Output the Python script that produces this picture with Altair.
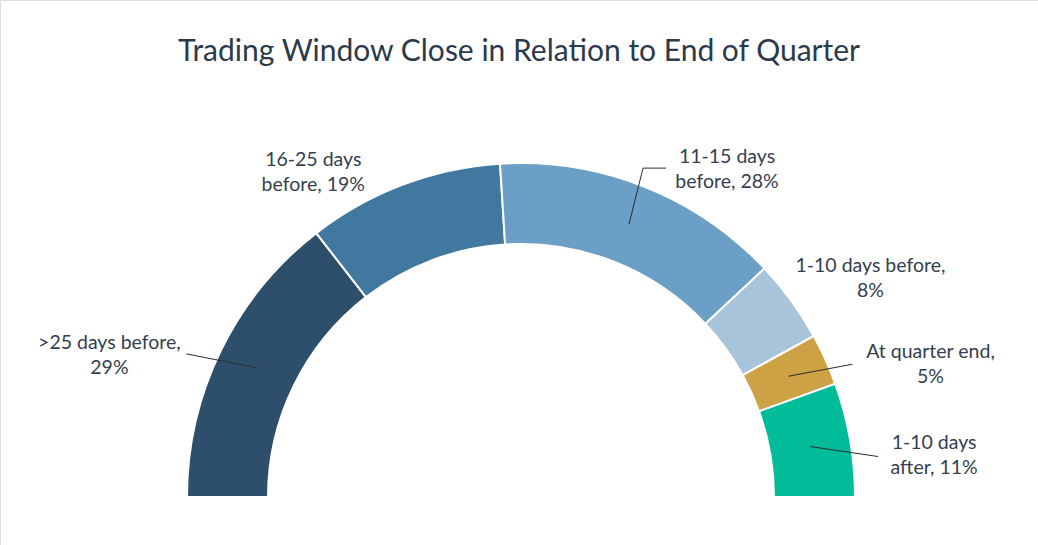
import altair as alt
import pandas as pd

# ---- data ----
categories = [">25 days before", "16-25 days before", "11-15 days before",
              "1-10 days before", "At quarter end", "1-10 days after"]
values = [29, 19, 28, 8, 5, 11]
label_text = [">25 days before,\n29%", "16-25 days\nbefore, 19%", "11-15 days\nbefore, 28%",
              "1-10 days before,\n8%", "At quarter end,\n5%", "1-10 days\nafter, 11%"]

# ---- style / layout ----
colors = ["#2D4F6C", "#41789F", "#6C9FC5", "#A8C4DB", "#CCA244", "#00BC99"]
text_color = "#333F50"
CX, CY = 521, 497          # donut centre (px)
R_IN, R_OUT = 253, 334     # ring radii (px)
R_MID = (R_IN + R_OUT) / 2
LINE_H = 25
# label placement (block centre) relative to each slice's mid-ring anchor
label_dx = [-148, -104, 98, 112, 142, 124]
label_dy = [-12, -50, -55, -46, -12, 9]
has_leader = [True, False, True, False, True, True]
leader_dx = [-71, 0, 14, 0, 64, 68]
leader_dy = [-14, 0, -56, 0, -12, 10]
has_elbow = [False, False, True, False, False, False]
elbow_dx = [0, 0, 23, 0, 0, 0]

df = pd.DataFrame({
    "category": categories,
    "value": values,
    "label": label_text,
    "order": list(range(len(categories))),
    "ldx": label_dx, "ldy": label_dy,
    "leader": has_leader, "edx": leader_dx, "edy": leader_dy,
    "elbow": has_elbow, "bdx": elbow_dx,
})

color_scale = alt.Scale(domain=categories, range=colors)

arcs = alt.Chart(df).mark_arc(
    innerRadius=R_IN, outerRadius=R_OUT, stroke="white", strokeWidth=2
).encode(
    theta=alt.Theta("value:Q", stack=True,
                    scale=alt.Scale(range=[-3.141592653589793 / 2, 3.141592653589793 / 2])),
    color=alt.Color("category:N", scale=color_scale, legend=None),
    order=alt.Order("order:Q"),
    x=alt.value(CX), y=alt.value(CY),
)

geo = alt.Chart(df).transform_window(
    cum="sum(value)", sort=[alt.SortField("order")]
).transform_joinaggregate(
    total="sum(value)"
).transform_calculate(
    mid="((datum.cum - datum.value/2)/datum.total)*PI - PI/2",
).transform_calculate(
    ax=f"{CX} + {R_MID}*sin(datum.mid)",
    ay=f"{CY} - {R_MID}*cos(datum.mid)",
).transform_calculate(
    lx="datum.ax + datum.ldx", ly=f"datum.ay + datum.ldy - {LINE_H / 2}",
    ex="datum.ax + datum.edx", ey="datum.ay + datum.edy",
    bx="datum.ax + datum.edx + datum.bdx",
)

leaders = geo.transform_filter("datum.leader").mark_rule(
    color="#2B2B2B", strokeWidth=1
).encode(
    x=alt.X("ax:Q", scale=None), y=alt.Y("ay:Q", scale=None),
    x2="ex:Q", y2="ey:Q",
)

elbows = geo.transform_filter("datum.elbow").mark_rule(
    color="#2B2B2B", strokeWidth=1
).encode(
    x=alt.X("ex:Q", scale=None), y=alt.Y("ey:Q", scale=None),
    x2="bx:Q", y2="ey:Q",
)

labels = geo.mark_text(
    font="Lato", fontSize=19.5, color=text_color, align="center",
    baseline="middle", lineBreak="\n", lineHeight=LINE_H,
).encode(
    x=alt.X("lx:Q", scale=None), y=alt.Y("ly:Q", scale=None),
    text="label:N",
)

chart = alt.layer(arcs, leaders, elbows, labels).properties(
    width=1038, height=545,
    padding=0,
    autosize=alt.AutoSizeParams(type="none"),
    title=alt.TitleParams(
        "Trading Window Close in Relation to End of Quarter",
        font="Lato", fontSize=30, fontWeight="normal", color="#2B3A4A",
        anchor="middle", frame="group", offset=0, baseline="alphabetic", dy=91,
    ),
).configure_view(stroke=None).configure(background="white")

chart.save("out.html", embed_options={"renderer": "svg", "actions": False})
